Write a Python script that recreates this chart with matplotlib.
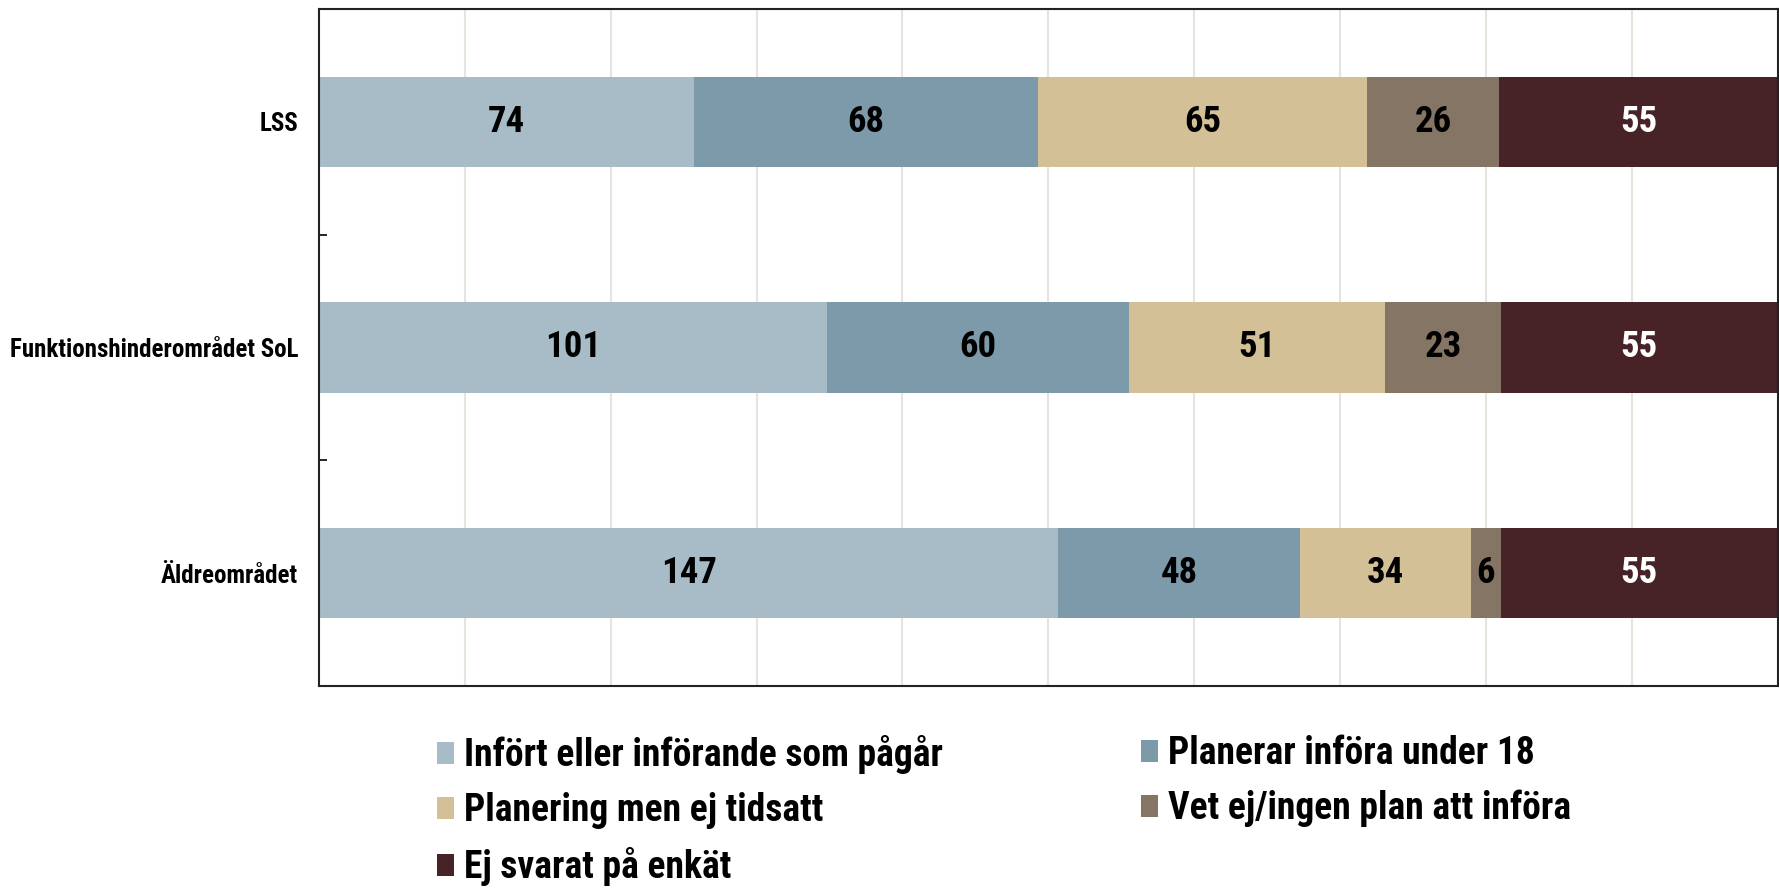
import matplotlib
matplotlib.use("Agg")
import matplotlib.pyplot as plt
import numpy as np
from matplotlib.patches import Patch

categories = ["LSS", "Funktionshinderområdet SoL", "Äldreområdet"]
series_names = ["Infört eller införande som pågår", "Planerar införa under 18",
                "Planering men ej tidsatt", "Vet ej/ingen plan att införa",
                "Ej svarat på enkät"]
infort = [74, 101, 147]
planerar = [68, 60, 48]
planering = [65, 51, 34]
vet_ej = [26, 23, 6]
ej_svarat = [55, 55, 55]

colors = ["#a7bcc7", "#7d9aaa", "#d4c096", "#857564", "#472226"]
label_colors = ["black", "black", "black", "black", "white"]

FONT = ["Roboto Condensed", "Liberation Sans Narrow", "DejaVu Sans"]

data = np.array([infort, planerar, planering, vet_ej, ej_svarat], dtype=float)
totals = data.sum(axis=0)
shares = data / totals

fig = plt.figure(figsize=(17.79, 8.88), dpi=100)
ax = fig.add_axes([0.1793, 0.2275, 0.8200, 0.7625])

y = np.arange(len(categories))
left = np.zeros(len(categories))
for i, name in enumerate(series_names):
    bars = ax.barh(y, shares[i], left=left, height=0.4, color=colors[i],
                   label=name, zorder=2)
    for j, b in enumerate(bars):
        ax.text(left[j] + shares[i][j] / 2, y[j], f"{int(data[i][j])}",
                ha="center", va="center", color=label_colors[i],
                fontsize=26.5, fontweight="bold", family=FONT, zorder=3)
    left += shares[i]

ax.set_xlim(0, 1)
ax.set_ylim(2.5, -0.5)
ax.set_xticks(np.arange(0.1, 1.0, 0.1))
ax.set_xticklabels([])
ax.tick_params(axis="x", length=0)
ax.xaxis.grid(True, color="#e6e4dd", linewidth=1.5, zorder=0)
ax.set_axisbelow(True)

ax.set_yticks(y)
ax.set_yticklabels(categories, fontsize=18, fontweight="bold", family=FONT)
ax.tick_params(axis="y", which="major", length=0, pad=15)
ax.set_yticks([0.5, 1.5], minor=True)
ax.tick_params(axis="y", which="minor", length=6, width=1.2, direction="in")

for s in ax.spines.values():
    s.set_color("#222222")
    s.set_linewidth(1.5)

handles = [Patch(facecolor=c, edgecolor="none") for c in colors]
lprops = dict(family=FONT, weight="bold", size=27)
common = dict(loc="upper left", frameon=False, prop=lprops, handlelength=0.45,
              handleheight=0.53, handletextpad=0.27, labelspacing=0.48,
              borderpad=0, borderaxespad=0)
leg1 = fig.legend([handles[0], handles[2], handles[4]],
                  [series_names[0], series_names[2], series_names[4]],
                  bbox_to_anchor=(437 / 1779, 1 - 735 / 888), **common)
leg2 = fig.legend([handles[1], handles[3]],
                  [series_names[1], series_names[3]],
                  bbox_to_anchor=(1141 / 1779, 1 - 735 / 888), **common)

fig.savefig("out.png", dpi=100)
